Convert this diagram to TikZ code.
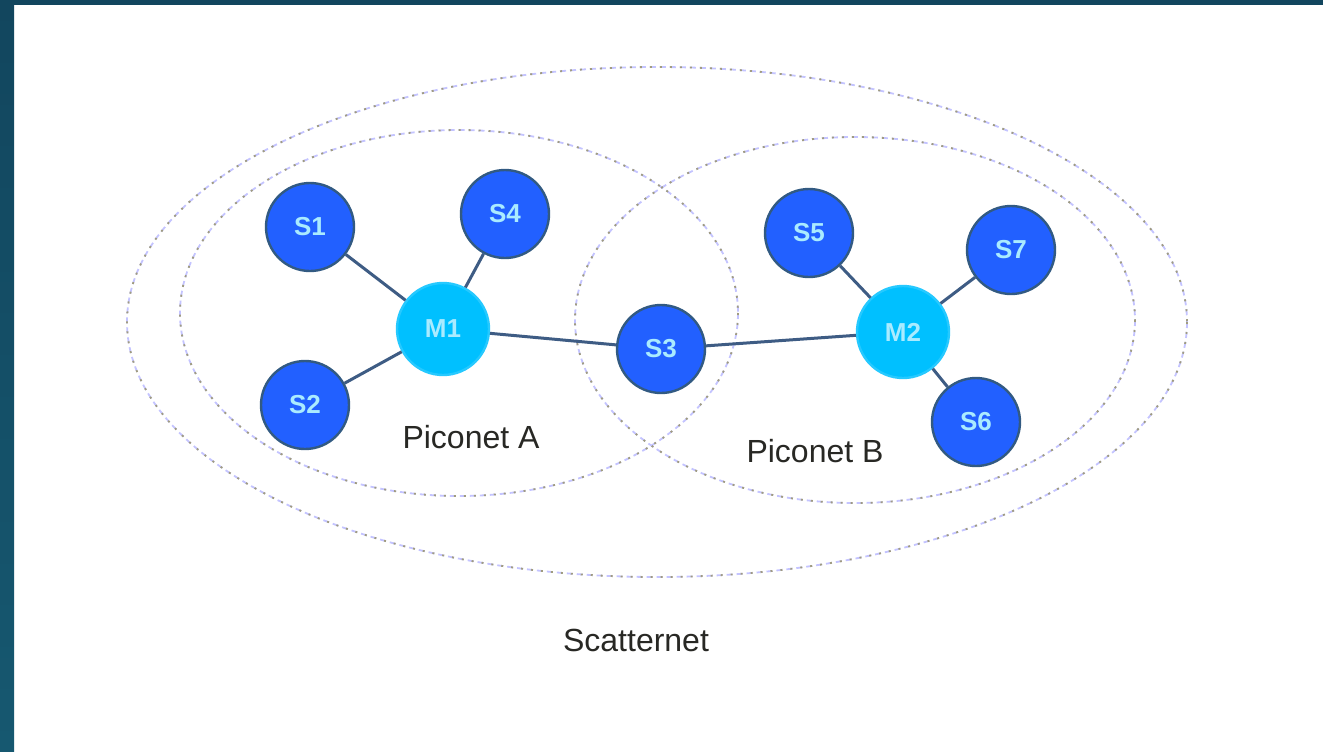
\documentclass[tikz,border=0pt]{standalone}
\usepackage{fontspec}
\setmainfont{Liberation Sans}
\definecolor{frame}{RGB}{18,70,94}
\definecolor{framelow}{RGB}{22,88,112}
\definecolor{ringlav}{RGB}{196,196,255}
\definecolor{ringolive}{RGB}{160,156,128}
\definecolor{slaveblue}{RGB}{34,96,255}
\definecolor{slaveedge}{RGB}{50,90,130}
\definecolor{masterblue}{RGB}{0,192,255}
\definecolor{linkcol}{RGB}{62,92,132}
\definecolor{labeltext}{RGB}{170,235,255}
\definecolor{captext}{RGB}{40,40,36}
\tikzset{
  ring/.style={draw=ringlav, line width=0.9pt, dash pattern=on 3pt off 2pt,
    postaction={draw=ringolive, line width=0.9pt, dash pattern=on 1pt off 4pt}},
  slave/.style={circle, fill=slaveblue, draw=slaveedge, line width=1.2pt,
    minimum size=44pt, inner sep=0pt, text=labeltext,
    font=\bfseries\fontsize{13}{13}\selectfont},
  master/.style={slave, fill=masterblue, draw=masterblue!85!white, minimum size=46pt},
  link/.style={draw=linkcol, line width=1.5pt},
  caption/.style={text=captext, font=\fontsize{16}{16}\selectfont}
}
\begin{document}
\begin{tikzpicture}[x=0.5pt,y=-0.5pt]
\useasboundingbox (0,0) rectangle (1323,751);
\fill[white] (0,0) rectangle (1323,751);
% frame edges
\fill[frame] (0,0) rectangle (1323,5);
\shade[top color=frame, bottom color=framelow] (0,0) rectangle (14,751);
% scatternet and the two piconets
\draw[ring] (657,322) ellipse [x radius=530, y radius=255];
\draw[ring] (459,313) ellipse [x radius=279, y radius=183];
\draw[ring] (855,320) ellipse [x radius=280, y radius=183];
% devices
\node[master] (m1) at (443,329) {M1};
\node[master] (m2) at (903,332) {M2};
\node[slave] (s1) at (310,227) {S1};
\node[slave] (s2) at (305,405) {S2};
\node[slave] (s3) at (661,349) {S3};
\node[slave] (s4) at (505,214) {S4};
\node[slave] (s5) at (809,233) {S5};
\node[slave] (s6) at (976,422) {S6};
\node[slave] (s7) at (1011,250) {S7};
% links
\draw[link] (s1) -- (m1);
\draw[link] (s2) -- (m1);
\draw[link] (s4) -- (m1);
\draw[link] (m1) -- (s3);
\draw[link] (s3) -- (m2);
\draw[link] (s5) -- (m2);
\draw[link] (s7) -- (m2);
\draw[link] (s6) -- (m2);
% labels
\node[caption] (pa) at (471,437) {Piconet A};
\node[caption] (pb) at (815,451) {Piconet B};
\node[caption] (sn) at (636,640) {Scatternet};
\end{tikzpicture}
\end{document}
